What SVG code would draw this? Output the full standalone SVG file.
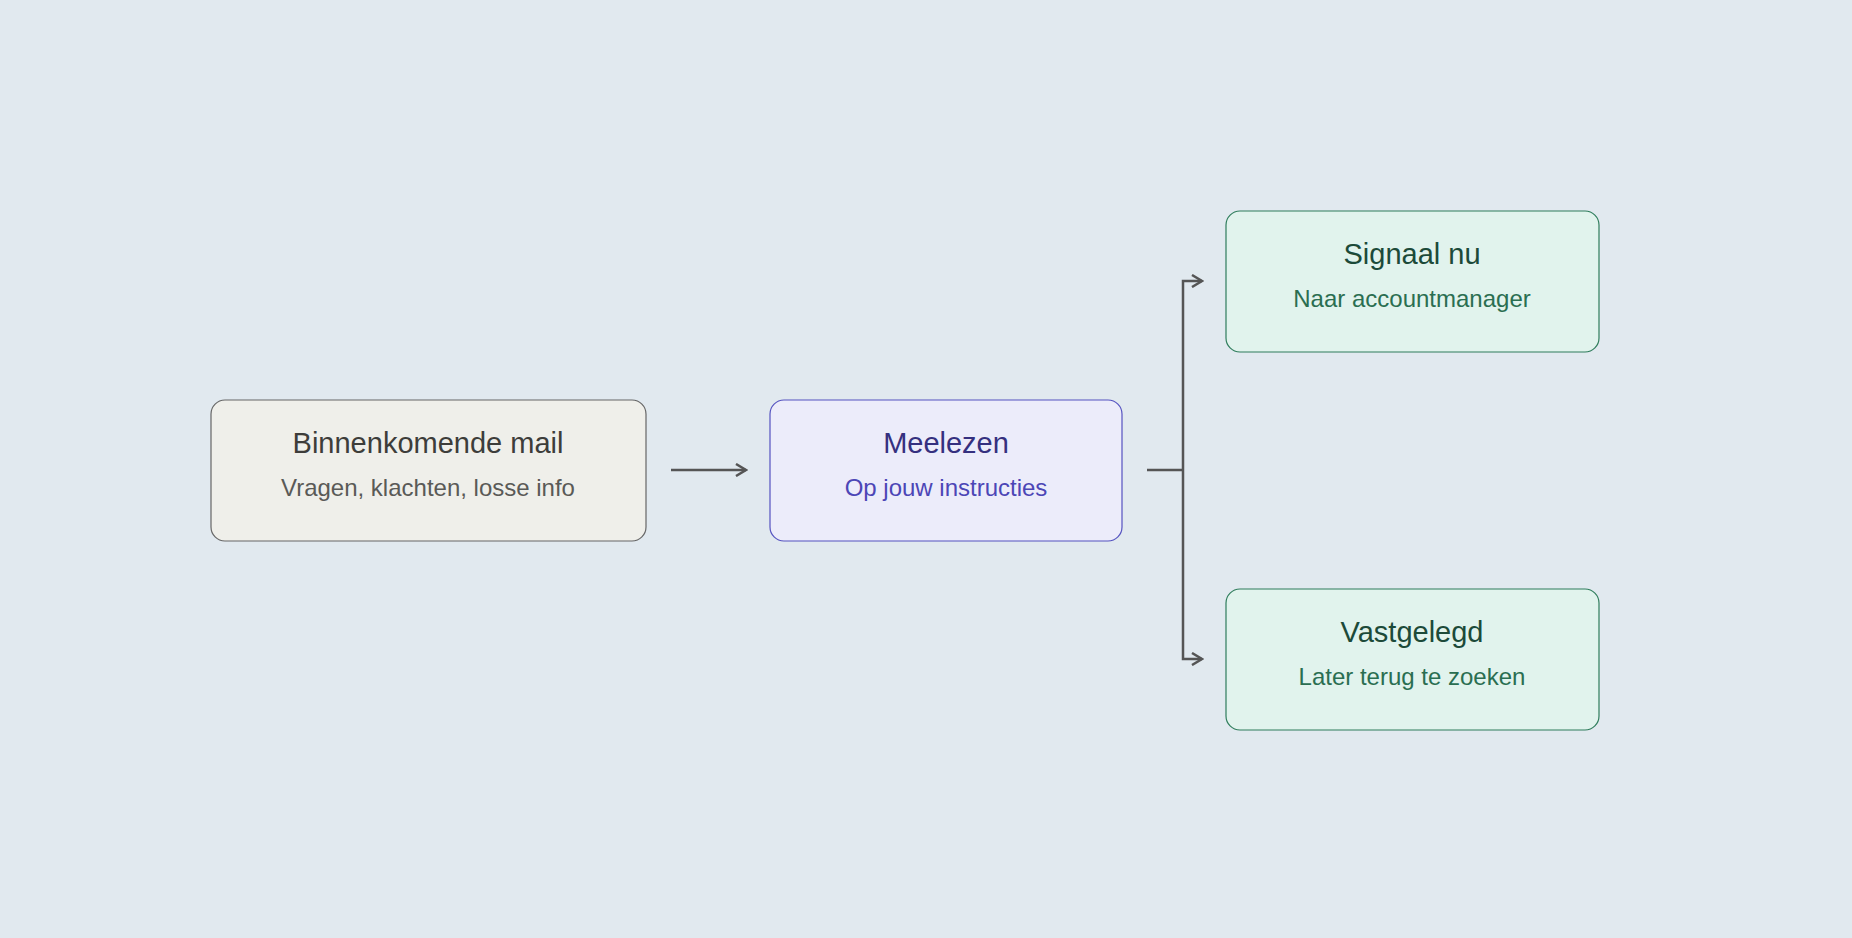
<svg xmlns="http://www.w3.org/2000/svg" width="1852" height="938" viewBox="0 0 1852 938">
<style>
.t{font-family:"Helvetica Neue","Liberation Sans",Arial,sans-serif;font-size:29px;text-anchor:middle}
.s{font-family:"Helvetica Neue","Liberation Sans",Arial,sans-serif;font-size:24px;text-anchor:middle}
.c{fill:none;stroke:#555;stroke-width:2.5}
</style>
<defs><marker id="a" markerWidth="14" markerHeight="14" refX="12" refY="7" orient="auto" markerUnits="userSpaceOnUse"><path d="M2,1 L12,7 L2,13" fill="none" stroke="#555" stroke-width="2.5"/></marker></defs>
<rect width="1852" height="938" fill="#e1e9ef"/>
<g id="n1"><rect x="211" y="400" width="435" height="141" rx="14" fill="#efefea" stroke="#666" stroke-width="1.2"/><text class="t" x="428" y="453" fill="#3d3d3a">Binnenkomende mail</text><text class="s" x="428" y="496" fill="#5a5a57">Vragen, klachten, losse info</text></g>
<g id="n2"><rect x="770" y="400" width="352" height="141" rx="14" fill="#ececfa" stroke="#5553c0" stroke-width="1.2"/><text class="t" x="946" y="453" fill="#35307f">Meelezen</text><text class="s" x="946" y="496" fill="#4c46b6">Op jouw instructies</text></g>
<g id="n3"><rect x="1226" y="211" width="373" height="141" rx="14" fill="#e1f3ed" stroke="#2f7d5c" stroke-width="1.2"/><text class="t" x="1412" y="264" fill="#1c4a39">Signaal nu</text><text class="s" x="1412" y="307" fill="#2a6e51">Naar accountmanager</text></g>
<g id="n4"><rect x="1226" y="589" width="373" height="141" rx="14" fill="#e1f3ed" stroke="#2f7d5c" stroke-width="1.2"/><text class="t" x="1412" y="642" fill="#1c4a39">Vastgelegd</text><text class="s" x="1412" y="685" fill="#2a6e51">Later terug te zoeken</text></g>
<g id="connectors">
<path class="c" d="M671,470 H746" marker-end="url(#a)"/>
<path class="c" d="M1147,470 H1183"/>
<path class="c" d="M1183,470 V281 H1202" marker-end="url(#a)"/>
<path class="c" d="M1183,470 V659 H1202" marker-end="url(#a)"/>
</g>
</svg>
